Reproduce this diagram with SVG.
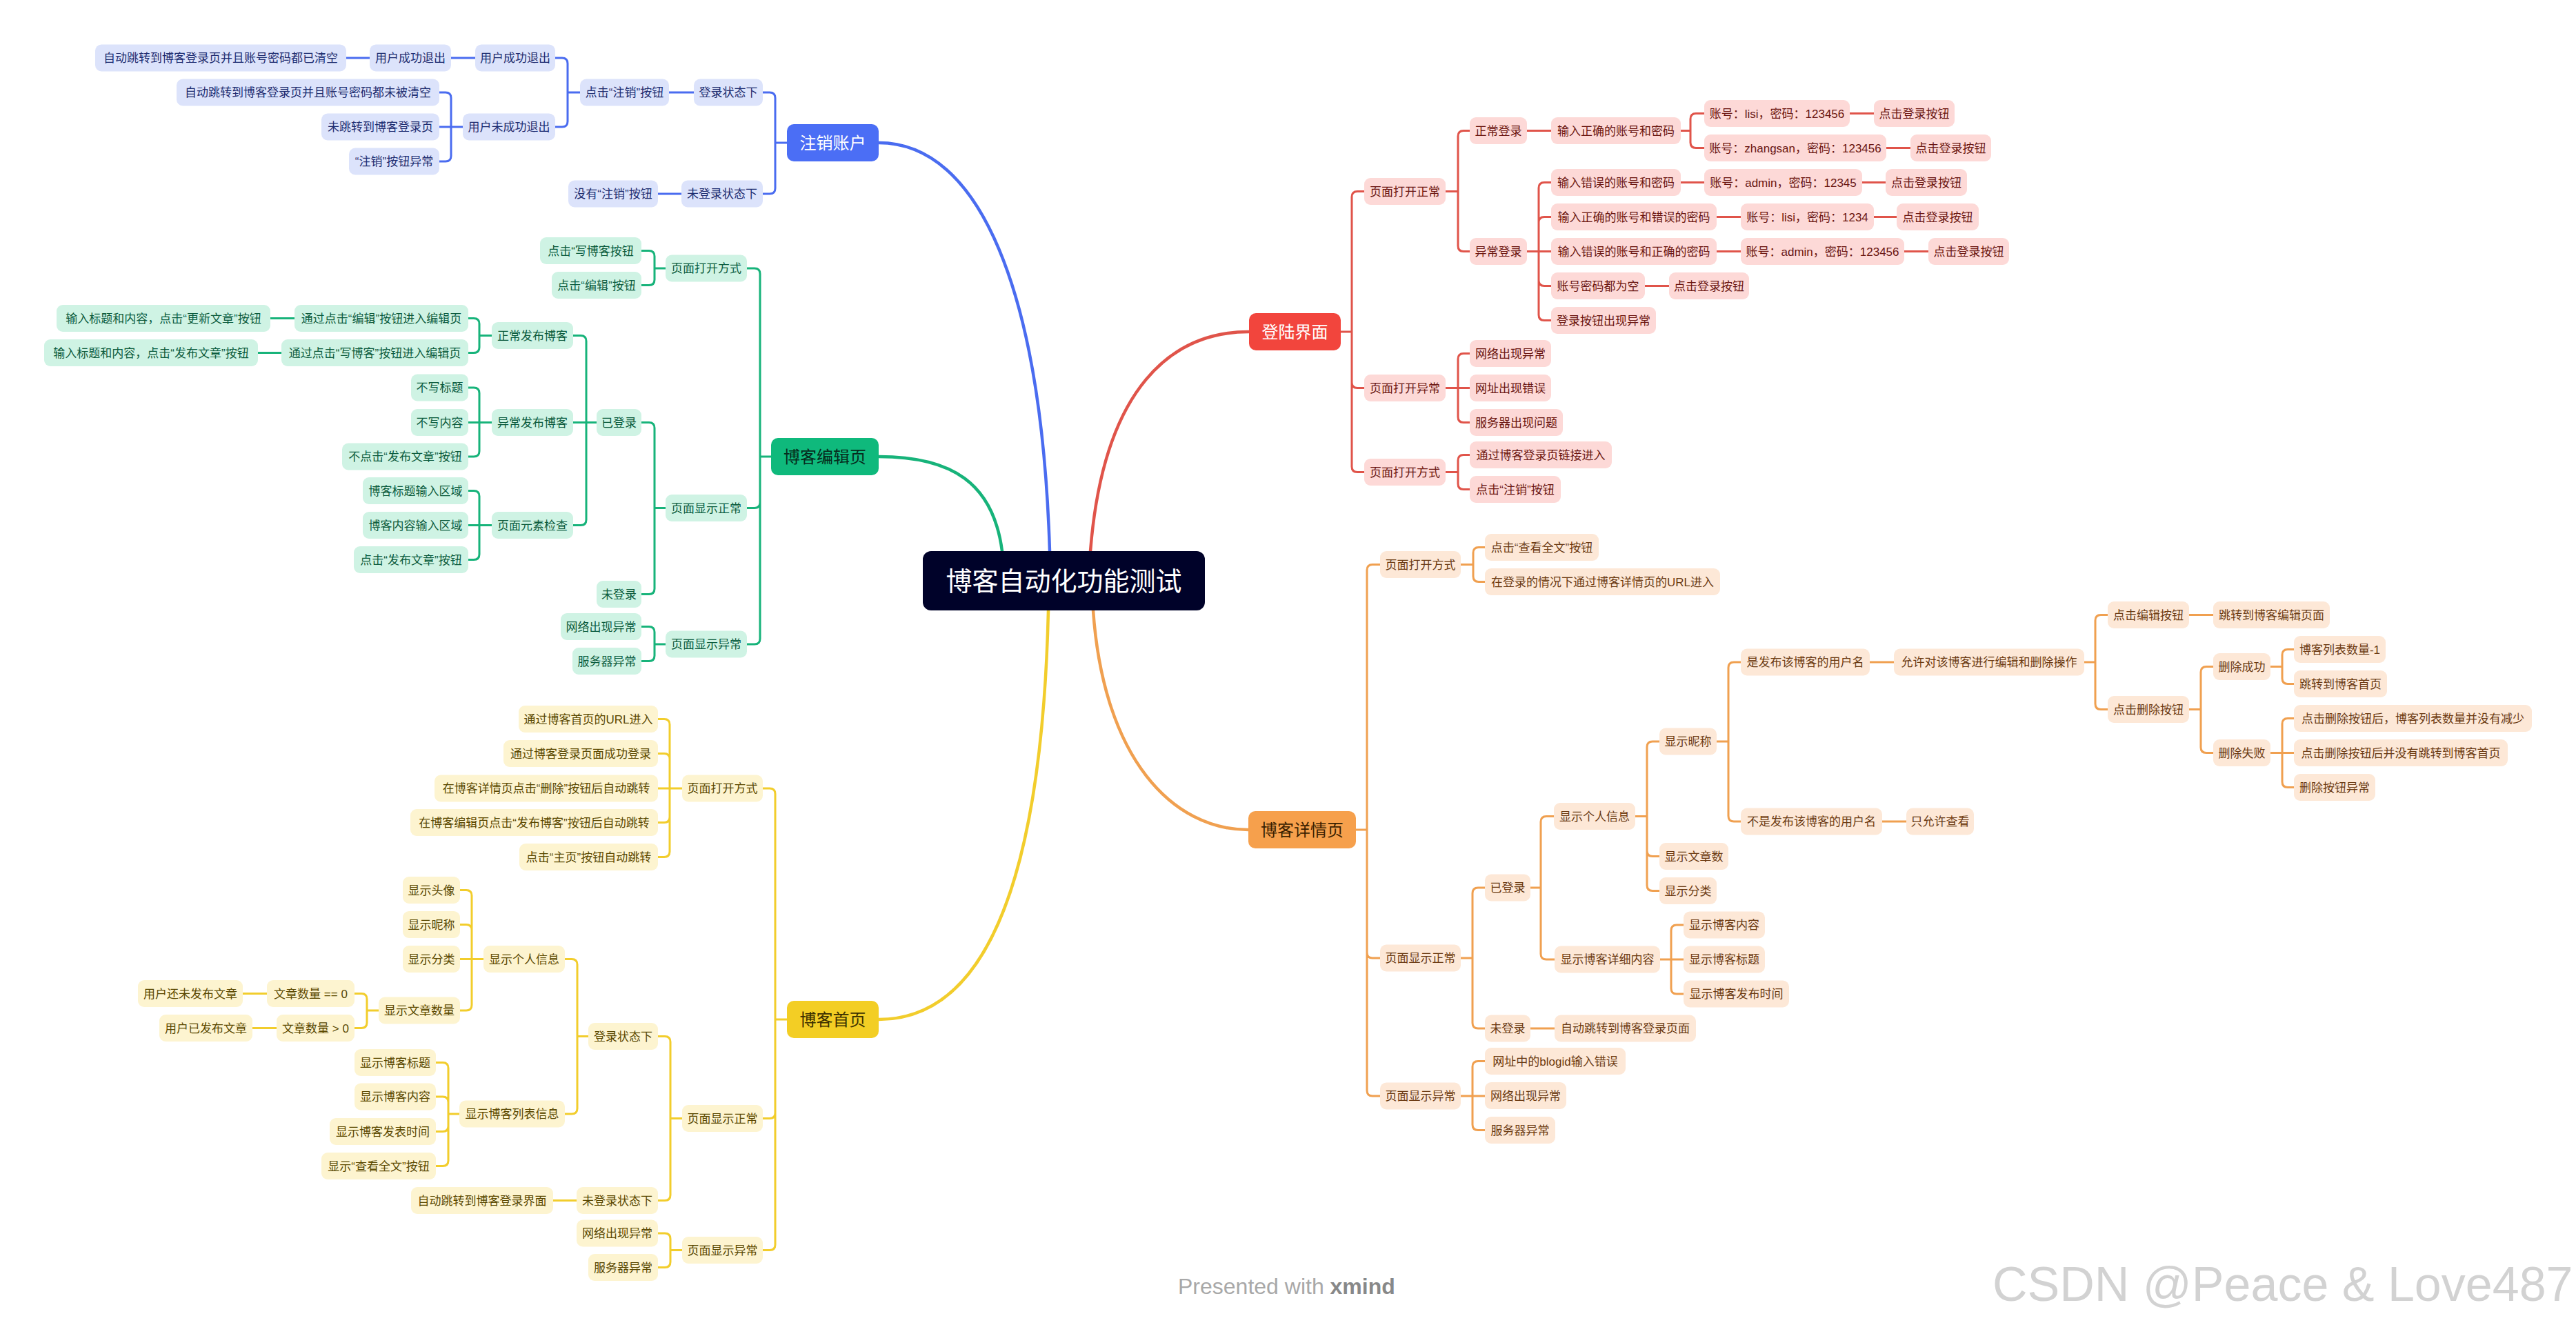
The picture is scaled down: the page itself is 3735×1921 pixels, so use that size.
<svg xmlns="http://www.w3.org/2000/svg" width="3735" height="1921" viewBox="0 0 3735 1921">
<style>
text{font-family:"Liberation Sans","Noto Sans CJK SC",sans-serif;font-size:17px;text-anchor:middle}
.nb rect{fill:#dce3fb}.nb text{fill:#1d2c70}
.ng rect{fill:#cff3e4}.ng text{fill:#0b5b3d}
.ny rect{fill:#fdf4d0}.ny text{fill:#5a4800}
.nr rect{fill:#fdd9d7}.nr text{fill:#6b1611}
.no rect{fill:#fde8d7}.no text{fill:#6b3a12}
.root text{font-size:24px}
#conn path{fill:none;stroke-width:3;stroke-linecap:round;stroke-linejoin:round}
#conn .main{stroke-width:4.5}
.cb{stroke:#4a6cf0}.cg{stroke:#17b37a}.cy{stroke:#f2cd2c}.cr{stroke:#e0544a}.co{stroke:#f0a050}
.wm{font-family:"Liberation Sans",sans-serif;text-anchor:start}
</style>
<rect width="3735" height="1921" fill="#ffffff"/>
<g id="conn">
<path class="cb main" d="M1522,799 C1510,420 1420,207 1274,207"/>
<path class="cg main" d="M1453,799 C1440,700 1380,662 1274,662"/>
<path class="cr main" d="M1581,799 C1600,560 1700,481 1811,481"/>
<path class="cy main" d="M1520,885 C1510,1300 1420,1478 1274,1478"/>
<path class="co main" d="M1585,885 C1600,1100 1700,1203 1810,1203"/>
<path class="cb" d="M1141,207 H1124 M1124,207 V142 Q1124,134 1116,134 H1106 M1124,207 V273 Q1124,281 1116,281 H1106 M1006,134 H970 M988,281 H954 M841,134 H823 M823,134 V92 Q823,84 815,84 H805 M823,134 V176 Q823,184 815,184 H805 M689,84 H654 M536,84 H502 M671,184 H654 M654,184 V142 Q654,134 646,134 H637 M654,184 H637 M654,184 V226 Q654,234 646,234 H637"/>
<path class="cg" d="M1118,662 H1102 M1102,662 V397 Q1102,389 1094,389 H1083 M1102,662 V728.5 Q1102,736.5 1094,736.5 H1083 M1102,662 V926 Q1102,934 1094,934 H1083 M965,389 H949 M949,389 V371.5 Q949,363.5 941,363.5 H930 M949,389 V405.5 Q949,413.5 941,413.5 H930 M965,736.5 H949 M949,736.5 V620.5 Q949,612.5 941,612.5 H930 M949,736.5 V853.5 Q949,861.5 941,861.5 H930 M965,934 H949 M949,934 V916.5 Q949,908.5 941,908.5 H930 M949,934 V950.5 Q949,958.5 941,958.5 H930 M865,612.5 H850 M850,612.5 V494.5 Q850,486.5 842,486.5 H831 M850,612.5 H831 M850,612.5 V753.5 Q850,761.5 842,761.5 H831 M713,486.5 H695 M695,486.5 V469.5 Q695,461.5 687,461.5 H679 M695,486.5 V503.5 Q695,511.5 687,511.5 H679 M427,461.5 H392 M408,511.5 H374 M713,612.5 H695 M695,612.5 V570 Q695,562 687,562 H679 M695,612.5 H679 M695,612.5 V654 Q695,662 687,662 H679 M713,761.5 H695 M695,761.5 V719.5 Q695,711.5 687,711.5 H679 M695,761.5 H679 M695,761.5 V803.5 Q695,811.5 687,811.5 H679"/>
<path class="cy" d="M1141,1478 H1124 M1124,1478 V1151 Q1124,1143 1116,1143 H1106 M1124,1478 V1613.5 Q1124,1621.5 1116,1621.5 H1106 M1124,1478 V1804.5 Q1124,1812.5 1116,1812.5 H1106 M989,1143 H971 M971,1143 V1050.5 Q971,1042.5 963,1042.5 H954 M971,1143 V1100.5 Q971,1092.5 963,1092.5 H954 M971,1143 H954 M971,1143 V1184.5 Q971,1192.5 963,1192.5 H954 M971,1143 V1234.5 Q971,1242.5 963,1242.5 H954 M989,1621.5 H972 M972,1621.5 V1510.5 Q972,1502.5 964,1502.5 H954 M972,1621.5 V1732.5 Q972,1740.5 964,1740.5 H954 M989,1812.5 H972 M972,1812.5 V1796 Q972,1788 964,1788 H954 M972,1812.5 V1829.5 Q972,1837.5 964,1837.5 H954 M853,1502.5 H837 M837,1502.5 V1398.5 Q837,1390.5 829,1390.5 H819 M837,1502.5 V1607 Q837,1615 829,1615 H819 M836,1740.5 H802 M701,1390.5 H684 M684,1390.5 V1298.5 Q684,1290.5 676,1290.5 H667 M684,1390.5 V1348.5 Q684,1340.5 676,1340.5 H667 M684,1390.5 H667 M684,1390.5 V1457 Q684,1465 676,1465 H667 M549,1465 H532 M532,1465 V1448.5 Q532,1440.5 524,1440.5 H514 M532,1465 V1482.5 Q532,1490.5 524,1490.5 H514 M387,1440.5 H352 M401,1490.5 H366 M666,1615 H650 M650,1615 V1548.5 Q650,1540.5 642,1540.5 H632 M650,1615 V1598 Q650,1590 642,1590 H632 M650,1615 V1632.5 Q650,1640.5 642,1640.5 H632 M650,1615 V1682.5 Q650,1690.5 642,1690.5 H632"/>
<path class="cr" d="M1944,481 H1960 M1960,481 V285.5 Q1960,277.5 1968,277.5 H1978 M1960,481 V554.5 Q1960,562.5 1968,562.5 H1978 M1960,481 V676.5 Q1960,684.5 1968,684.5 H1978 M2096,277.5 H2114 M2114,277.5 V197.5 Q2114,189.5 2122,189.5 H2131 M2114,277.5 V356.5 Q2114,364.5 2122,364.5 H2131 M2096,562.5 H2114 M2114,562.5 V520.5 Q2114,512.5 2122,512.5 H2131 M2114,562.5 H2131 M2114,562.5 V604.5 Q2114,612.5 2122,612.5 H2131 M2096,684.5 H2114 M2114,684.5 V667.5 Q2114,659.5 2122,659.5 H2131 M2114,684.5 V701.5 Q2114,709.5 2122,709.5 H2131 M2214,189.5 H2249 M2437,189.5 H2451 M2451,189.5 V172.5 Q2451,164.5 2459,164.5 H2471 M2451,189.5 V206.5 Q2451,214.5 2459,214.5 H2471 M2682,164.5 H2717 M2735,214.5 H2770 M2214,364.5 H2231 M2231,364.5 V272.5 Q2231,264.5 2239,264.5 H2249 M2231,364.5 V322.5 Q2231,314.5 2239,314.5 H2249 M2231,364.5 H2249 M2231,364.5 V406.5 Q2231,414.5 2239,414.5 H2249 M2231,364.5 V456.5 Q2231,464.5 2239,464.5 H2249 M2437,264.5 H2471 M2700,264.5 H2734 M2489,314.5 H2524 M2717,314.5 H2750 M2489,364.5 H2524 M2761,364.5 H2796 M2385,414.5 H2420"/>
<path class="co" d="M1966,1203 H1982 M1982,1203 V826.5 Q1982,818.5 1990,818.5 H2001 M1982,1203 V1381 Q1982,1389 1990,1389 H2001 M1982,1203 V1581 Q1982,1589 1990,1589 H2001 M2118,818.5 H2136 M2136,818.5 V801.5 Q2136,793.5 2144,793.5 H2153 M2136,818.5 V835.5 Q2136,843.5 2144,843.5 H2153 M2118,1389 H2135 M2135,1389 V1295 Q2135,1287 2143,1287 H2153 M2135,1389 V1483 Q2135,1491 2143,1491 H2153 M2118,1589 H2135 M2135,1589 V1546.5 Q2135,1538.5 2143,1538.5 H2153 M2135,1589 H2153 M2135,1589 V1630.5 Q2135,1638.5 2143,1638.5 H2153 M2219,1287 H2234 M2234,1287 V1191.5 Q2234,1183.5 2242,1183.5 H2253 M2234,1287 V1383 Q2234,1391 2242,1391 H2254 M2219,1491 H2254 M2371,1183.5 H2388 M2388,1183.5 V1083 Q2388,1075 2396,1075 H2406 M2388,1183.5 V1233.5 Q2388,1241.5 2396,1241.5 H2406 M2388,1183.5 V1283.5 Q2388,1291.5 2396,1291.5 H2406 M2407,1391 H2423 M2423,1391 V1349 Q2423,1341 2431,1341 H2441 M2423,1391 H2441 M2423,1391 V1433 Q2423,1441 2431,1441 H2441 M2489,1075 H2506 M2506,1075 V968 Q2506,960 2514,960 H2524 M2506,1075 V1183 Q2506,1191 2514,1191 H2524 M2711,960 H2746 M2729,1191 H2764 M3022,960 H3038 M3038,960 V899.5 Q3038,891.5 3046,891.5 H3056 M3038,960 V1020.5 Q3038,1028.5 3046,1028.5 H3056 M3174,891.5 H3209 M3174,1028.5 H3191 M3191,1028.5 V974.5 Q3191,966.5 3199,966.5 H3209 M3191,1028.5 V1083.5 Q3191,1091.5 3199,1091.5 H3209 M3292,966.5 H3309 M3309,966.5 V949.5 Q3309,941.5 3317,941.5 H3326 M3309,966.5 V983.5 Q3309,991.5 3317,991.5 H3326 M3292,1091.5 H3309 M3309,1091.5 V1049.5 Q3309,1041.5 3317,1041.5 H3326 M3309,1091.5 H3326 M3309,1091.5 V1133.5 Q3309,1141.5 3317,1141.5 H3326"/>
</g>
<g id="center"><rect x="1338" y="799" width="409" height="86" rx="12" fill="#000229"/><text x="1542.5" y="856" style="font-size:38px" fill="#ffffff">博客自动化功能测试</text></g>
<!-- blue -->
<g id="b-root" class="root"><rect x="1141" y="180" width="133" height="54" rx="10" fill="#4b6ef5"/><text x="1207.5" y="216" fill="#ffffff">注销账户</text></g>
<g id="b1" class="nb"><rect x="1006" y="114.5" width="100" height="39" rx="9"/><text x="1056" y="140">登录状态下</text></g>
<g id="b2" class="nb"><rect x="988" y="261.5" width="118" height="39" rx="9"/><text x="1047" y="287">未登录状态下</text></g>
<g id="b11" class="nb"><rect x="841" y="114.5" width="129" height="39" rx="9"/><text x="905.5" y="140">点击“注销”按钮</text></g>
<g id="b21" class="nb"><rect x="824" y="261.5" width="130" height="39" rx="9"/><text x="889" y="287">没有“注销”按钮</text></g>
<g id="b111" class="nb"><rect x="689" y="64.5" width="116" height="39" rx="9"/><text x="747" y="90">用户成功退出</text></g>
<g id="b112" class="nb"><rect x="671" y="164.5" width="134" height="39" rx="9"/><text x="738" y="190">用户未成功退出</text></g>
<g id="b1111" class="nb"><rect x="536" y="64.5" width="118" height="39" rx="9"/><text x="595" y="90">用户成功退出</text></g>
<g id="b11111" class="nb"><rect x="138" y="64.5" width="364" height="39" rx="9"/><text x="320" y="90">自动跳转到博客登录页并且账号密码都已清空</text></g>
<g id="b1121" class="nb"><rect x="256" y="114.5" width="381" height="39" rx="9"/><text x="446.5" y="140">自动跳转到博客登录页并且账号密码都未被清空</text></g>
<g id="b1122" class="nb"><rect x="466" y="164.5" width="171" height="39" rx="9"/><text x="551.5" y="190">未跳转到博客登录页</text></g>
<g id="b1123" class="nb"><rect x="506" y="214.5" width="131" height="39" rx="9"/><text x="571.5" y="240">“注销”按钮异常</text></g>
<!-- green -->
<g id="g-root" class="root"><rect x="1118" y="635" width="156" height="54" rx="10" fill="#0fb97c"/><text x="1196" y="671" fill="#062b1c">博客编辑页</text></g>
<g id="g1" class="ng"><rect x="965" y="369.5" width="118" height="39" rx="9"/><text x="1024" y="395">页面打开方式</text></g>
<g id="g2" class="ng"><rect x="965" y="717" width="118" height="39" rx="9"/><text x="1024" y="742.5">页面显示正常</text></g>
<g id="g3" class="ng"><rect x="965" y="914.5" width="118" height="39" rx="9"/><text x="1024" y="940">页面显示异常</text></g>
<g id="g11" class="ng"><rect x="783" y="344" width="147" height="39" rx="9"/><text x="856.5" y="369.5">点击“写博客按钮</text></g>
<g id="g12" class="ng"><rect x="800" y="394" width="130" height="39" rx="9"/><text x="865" y="419.5">点击“编辑”按钮</text></g>
<g id="g21" class="ng"><rect x="865" y="593" width="65" height="39" rx="9"/><text x="897.5" y="618.5">已登录</text></g>
<g id="g22" class="ng"><rect x="865" y="842" width="65" height="39" rx="9"/><text x="897.5" y="867.5">未登录</text></g>
<g id="g31" class="ng"><rect x="813" y="889" width="117" height="39" rx="9"/><text x="871.5" y="914.5">网络出现异常</text></g>
<g id="g32" class="ng"><rect x="830" y="939" width="100" height="39" rx="9"/><text x="880" y="964.5">服务器异常</text></g>
<g id="g211" class="ng"><rect x="713" y="467" width="118" height="39" rx="9"/><text x="772" y="492.5">正常发布博客</text></g>
<g id="g212" class="ng"><rect x="713" y="593" width="118" height="39" rx="9"/><text x="772" y="618.5">异常发布博客</text></g>
<g id="g213" class="ng"><rect x="713" y="742" width="118" height="39" rx="9"/><text x="772" y="767.5">页面元素检查</text></g>
<g id="g2111" class="ng"><rect x="427" y="442" width="252" height="39" rx="9"/><text x="553" y="467.5">通过点击“编辑”按钮进入编辑页</text></g>
<g id="g2112" class="ng"><rect x="408" y="492" width="271" height="39" rx="9"/><text x="543.5" y="517.5">通过点击“写博客”按钮进入编辑页</text></g>
<g id="g21111" class="ng"><rect x="82" y="442" width="310" height="39" rx="9"/><text x="237" y="467.5">输入标题和内容，点击“更新文章”按钮</text></g>
<g id="g21121" class="ng"><rect x="64" y="492" width="310" height="39" rx="9"/><text x="219" y="517.5">输入标题和内容，点击“发布文章”按钮</text></g>
<g id="g2121" class="ng"><rect x="596" y="542.5" width="83" height="39" rx="9"/><text x="637.5" y="568">不写标题</text></g>
<g id="g2122" class="ng"><rect x="596" y="593" width="83" height="39" rx="9"/><text x="637.5" y="618.5">不写内容</text></g>
<g id="g2123" class="ng"><rect x="496" y="642.5" width="183" height="39" rx="9"/><text x="587.5" y="668">不点击“发布文章”按钮</text></g>
<g id="g2131" class="ng"><rect x="526" y="692" width="153" height="39" rx="9"/><text x="602.5" y="717.5">博客标题输入区域</text></g>
<g id="g2132" class="ng"><rect x="526" y="742" width="153" height="39" rx="9"/><text x="602.5" y="767.5">博客内容输入区域</text></g>
<g id="g2133" class="ng"><rect x="513" y="792" width="166" height="39" rx="9"/><text x="596" y="817.5">点击“发布文章”按钮</text></g>
<!-- yellow -->
<g id="y-root" class="root"><rect x="1141" y="1451" width="133" height="54" rx="10" fill="#f3ce24"/><text x="1207.5" y="1487" fill="#3b3000">博客首页</text></g>
<g id="y1" class="ny"><rect x="989" y="1123.5" width="117" height="39" rx="9"/><text x="1047.5" y="1149">页面打开方式</text></g>
<g id="y2" class="ny"><rect x="989" y="1602" width="117" height="39" rx="9"/><text x="1047.5" y="1627.5">页面显示正常</text></g>
<g id="y3" class="ny"><rect x="989" y="1793" width="117" height="39" rx="9"/><text x="1047.5" y="1818.5">页面显示异常</text></g>
<g id="y11" class="ny"><rect x="752" y="1023" width="202" height="39" rx="9"/><text x="853" y="1048.5">通过博客首页的URL进入</text></g>
<g id="y12" class="ny"><rect x="730" y="1073" width="224" height="39" rx="9"/><text x="842" y="1098.5">通过博客登录页面成功登录</text></g>
<g id="y13" class="ny"><rect x="630" y="1123.5" width="324" height="39" rx="9"/><text x="792" y="1149">在博客详情页点击“删除”按钮后自动跳转</text></g>
<g id="y14" class="ny"><rect x="595" y="1173" width="359" height="39" rx="9"/><text x="774.5" y="1198.5">在博客编辑页点击“发布博客”按钮后自动跳转</text></g>
<g id="y15" class="ny"><rect x="753" y="1223" width="201" height="39" rx="9"/><text x="853.5" y="1248.5">点击“主页”按钮自动跳转</text></g>
<g id="y21" class="ny"><rect x="853" y="1483" width="101" height="39" rx="9"/><text x="903.5" y="1508.5">登录状态下</text></g>
<g id="y22" class="ny"><rect x="836" y="1721" width="118" height="39" rx="9"/><text x="895" y="1746.5">未登录状态下</text></g>
<g id="y31" class="ny"><rect x="836" y="1768.5" width="118" height="39" rx="9"/><text x="895" y="1794">网络出现异常</text></g>
<g id="y32" class="ny"><rect x="853" y="1818" width="101" height="39" rx="9"/><text x="903.5" y="1843.5">服务器异常</text></g>
<g id="y211" class="ny"><rect x="701" y="1371" width="118" height="39" rx="9"/><text x="760" y="1396.5">显示个人信息</text></g>
<g id="y212" class="ny"><rect x="666" y="1595.5" width="153" height="39" rx="9"/><text x="742.5" y="1621">显示博客列表信息</text></g>
<g id="y221" class="ny"><rect x="596" y="1721" width="206" height="39" rx="9"/><text x="699" y="1746.5">自动跳转到博客登录界面</text></g>
<g id="y2111" class="ny"><rect x="584" y="1271" width="83" height="39" rx="9"/><text x="625.5" y="1296.5">显示头像</text></g>
<g id="y2112" class="ny"><rect x="584" y="1321" width="83" height="39" rx="9"/><text x="625.5" y="1346.5">显示昵称</text></g>
<g id="y2113" class="ny"><rect x="584" y="1371" width="83" height="39" rx="9"/><text x="625.5" y="1396.5">显示分类</text></g>
<g id="y2114" class="ny"><rect x="549" y="1445.5" width="118" height="39" rx="9"/><text x="608" y="1471">显示文章数量</text></g>
<g id="y21141" class="ny"><rect x="387" y="1421" width="127" height="39" rx="9"/><text x="450.5" y="1446.5">文章数量 == 0</text></g>
<g id="y21142" class="ny"><rect x="401" y="1471" width="113" height="39" rx="9"/><text x="457.5" y="1496.5">文章数量 &gt; 0</text></g>
<g id="y211411" class="ny"><rect x="200" y="1421" width="152" height="39" rx="9"/><text x="276" y="1446.5">用户还未发布文章</text></g>
<g id="y211421" class="ny"><rect x="231" y="1471" width="135" height="39" rx="9"/><text x="298.5" y="1496.5">用户已发布文章</text></g>
<g id="y2121" class="ny"><rect x="514" y="1521" width="118" height="39" rx="9"/><text x="573" y="1546.5">显示博客标题</text></g>
<g id="y2122" class="ny"><rect x="514" y="1570.5" width="118" height="39" rx="9"/><text x="573" y="1596">显示博客内容</text></g>
<g id="y2123" class="ny"><rect x="478" y="1621" width="154" height="39" rx="9"/><text x="555" y="1646.5">显示博客发表时间</text></g>
<g id="y2124" class="ny"><rect x="466" y="1671" width="166" height="39" rx="9"/><text x="549" y="1696.5">显示“查看全文”按钮</text></g>
<!-- red -->
<g id="r-root" class="root"><rect x="1811" y="454" width="133" height="54" rx="10" fill="#f2453d"/><text x="1877.5" y="490" fill="#ffffff">登陆界面</text></g>
<g id="r1" class="nr"><rect x="1978" y="258" width="118" height="39" rx="9"/><text x="2037" y="283.5">页面打开正常</text></g>
<g id="r2" class="nr"><rect x="1978" y="543" width="118" height="39" rx="9"/><text x="2037" y="568.5">页面打开异常</text></g>
<g id="r3" class="nr"><rect x="1978" y="665" width="118" height="39" rx="9"/><text x="2037" y="690.5">页面打开方式</text></g>
<g id="r11" class="nr"><rect x="2131" y="170" width="83" height="39" rx="9"/><text x="2172.5" y="195.5">正常登录</text></g>
<g id="r12" class="nr"><rect x="2131" y="345" width="83" height="39" rx="9"/><text x="2172.5" y="370.5">异常登录</text></g>
<g id="r21" class="nr"><rect x="2131" y="493" width="118" height="39" rx="9"/><text x="2190" y="518.5">网络出现异常</text></g>
<g id="r22" class="nr"><rect x="2131" y="543" width="118" height="39" rx="9"/><text x="2190" y="568.5">网址出现错误</text></g>
<g id="r23" class="nr"><rect x="2131" y="593" width="135" height="39" rx="9"/><text x="2198.5" y="618.5">服务器出现问题</text></g>
<g id="r31" class="nr"><rect x="2131" y="640" width="206" height="39" rx="9"/><text x="2234" y="665.5">通过博客登录页链接进入</text></g>
<g id="r32" class="nr"><rect x="2131" y="690" width="132" height="39" rx="9"/><text x="2197" y="715.5">点击“注销”按钮</text></g>
<g id="r111" class="nr"><rect x="2249" y="170" width="188" height="39" rx="9"/><text x="2343" y="195.5">输入正确的账号和密码</text></g>
<g id="r1111" class="nr"><rect x="2471" y="145" width="211" height="39" rx="9"/><text x="2576.5" y="170.5">账号：lisi，密码：123456</text></g>
<g id="r1112" class="nr"><rect x="2471" y="195" width="264" height="39" rx="9"/><text x="2603" y="220.5">账号：zhangsan，密码：123456</text></g>
<g id="r11111" class="nr"><rect x="2717" y="145" width="117" height="39" rx="9"/><text x="2775.5" y="170.5">点击登录按钮</text></g>
<g id="r11121" class="nr"><rect x="2770" y="195" width="117" height="39" rx="9"/><text x="2828.5" y="220.5">点击登录按钮</text></g>
<g id="r121" class="nr"><rect x="2249" y="245" width="188" height="39" rx="9"/><text x="2343" y="270.5">输入错误的账号和密码</text></g>
<g id="r122" class="nr"><rect x="2249" y="295" width="240" height="39" rx="9"/><text x="2369" y="320.5">输入正确的账号和错误的密码</text></g>
<g id="r123" class="nr"><rect x="2249" y="345" width="240" height="39" rx="9"/><text x="2369" y="370.5">输入错误的账号和正确的密码</text></g>
<g id="r124" class="nr"><rect x="2249" y="395" width="136" height="39" rx="9"/><text x="2317" y="420.5">账号密码都为空</text></g>
<g id="r125" class="nr"><rect x="2249" y="445" width="152" height="39" rx="9"/><text x="2325" y="470.5">登录按钮出现异常</text></g>
<g id="r1211" class="nr"><rect x="2471" y="245" width="229" height="39" rx="9"/><text x="2585.5" y="270.5">账号：admin，密码：12345</text></g>
<g id="r12111" class="nr"><rect x="2734" y="245" width="118" height="39" rx="9"/><text x="2793" y="270.5">点击登录按钮</text></g>
<g id="r1221" class="nr"><rect x="2524" y="295" width="193" height="39" rx="9"/><text x="2620.5" y="320.5">账号：lisi，密码：1234</text></g>
<g id="r12211" class="nr"><rect x="2750" y="295" width="119" height="39" rx="9"/><text x="2809.5" y="320.5">点击登录按钮</text></g>
<g id="r1231" class="nr"><rect x="2524" y="345" width="237" height="39" rx="9"/><text x="2642.5" y="370.5">账号：admin，密码：123456</text></g>
<g id="r12311" class="nr"><rect x="2796" y="345" width="117" height="39" rx="9"/><text x="2854.5" y="370.5">点击登录按钮</text></g>
<g id="r1241" class="nr"><rect x="2420" y="395" width="116" height="39" rx="9"/><text x="2478" y="420.5">点击登录按钮</text></g>
<!-- orange -->
<g id="o-root" class="root"><rect x="1810" y="1176" width="156" height="54" rx="10" fill="#f6a04c"/><text x="1888" y="1212" fill="#3a1f00">博客详情页</text></g>
<g id="o1" class="no"><rect x="2001" y="799" width="117" height="39" rx="9"/><text x="2059.5" y="824.5">页面打开方式</text></g>
<g id="o2" class="no"><rect x="2001" y="1369.5" width="117" height="39" rx="9"/><text x="2059.5" y="1395">页面显示正常</text></g>
<g id="o3" class="no"><rect x="2001" y="1569.5" width="117" height="39" rx="9"/><text x="2059.5" y="1595">页面显示异常</text></g>
<g id="o11" class="no"><rect x="2153" y="774" width="165" height="39" rx="9"/><text x="2235.5" y="799.5">点击“查看全文”按钮</text></g>
<g id="o12" class="no"><rect x="2153" y="824" width="341" height="39" rx="9"/><text x="2323.5" y="849.5">在登录的情况下通过博客详情页的URL进入</text></g>
<g id="o21" class="no"><rect x="2153" y="1267.5" width="66" height="39" rx="9"/><text x="2186" y="1293">已登录</text></g>
<g id="o22" class="no"><rect x="2153" y="1471.5" width="66" height="39" rx="9"/><text x="2186" y="1497">未登录</text></g>
<g id="o31" class="no"><rect x="2153" y="1519" width="204" height="39" rx="9"/><text x="2255" y="1544.5">网址中的blogid输入错误</text></g>
<g id="o32" class="no"><rect x="2153" y="1569" width="118" height="39" rx="9"/><text x="2212" y="1594.5">网络出现异常</text></g>
<g id="o33" class="no"><rect x="2153" y="1619" width="102" height="39" rx="9"/><text x="2204" y="1644.5">服务器异常</text></g>
<g id="o211" class="no"><rect x="2253" y="1164" width="118" height="39" rx="9"/><text x="2312" y="1189.5">显示个人信息</text></g>
<g id="o212" class="no"><rect x="2254" y="1371.5" width="153" height="39" rx="9"/><text x="2330.5" y="1397">显示博客详细内容</text></g>
<g id="o221" class="no"><rect x="2254" y="1471.5" width="205" height="39" rx="9"/><text x="2356.5" y="1497">自动跳转到博客登录页面</text></g>
<g id="o2111" class="no"><rect x="2406" y="1055.5" width="83" height="39" rx="9"/><text x="2447.5" y="1081">显示昵称</text></g>
<g id="o2112" class="no"><rect x="2406" y="1222" width="100" height="39" rx="9"/><text x="2456" y="1247.5">显示文章数</text></g>
<g id="o2113" class="no"><rect x="2406" y="1272" width="83" height="39" rx="9"/><text x="2447.5" y="1297.5">显示分类</text></g>
<g id="o2121" class="no"><rect x="2441" y="1321.5" width="118" height="39" rx="9"/><text x="2500" y="1347">显示博客内容</text></g>
<g id="o2122" class="no"><rect x="2441" y="1371.5" width="118" height="39" rx="9"/><text x="2500" y="1397">显示博客标题</text></g>
<g id="o2123" class="no"><rect x="2441" y="1421.5" width="153" height="39" rx="9"/><text x="2517.5" y="1447">显示博客发布时间</text></g>
<g id="o21111" class="no"><rect x="2524" y="940.5" width="187" height="39" rx="9"/><text x="2617.5" y="966">是发布该博客的用户名</text></g>
<g id="o21112" class="no"><rect x="2524" y="1171.5" width="205" height="39" rx="9"/><text x="2626.5" y="1197">不是发布该博客的用户名</text></g>
<g id="o211111" class="no"><rect x="2746" y="940.5" width="276" height="39" rx="9"/><text x="2884" y="966">允许对该博客进行编辑和删除操作</text></g>
<g id="o211121" class="no"><rect x="2764" y="1171.5" width="98" height="39" rx="9"/><text x="2813" y="1197">只允许查看</text></g>
<g id="o-edit" class="no"><rect x="3056" y="872" width="118" height="39" rx="9"/><text x="3115" y="897.5">点击编辑按钮</text></g>
<g id="o-del" class="no"><rect x="3056" y="1009" width="118" height="39" rx="9"/><text x="3115" y="1034.5">点击删除按钮</text></g>
<g id="o-edit1" class="no"><rect x="3209" y="872" width="169" height="39" rx="9"/><text x="3293.5" y="897.5">跳转到博客编辑页面</text></g>
<g id="o-ds" class="no"><rect x="3209" y="947" width="83" height="39" rx="9"/><text x="3250.5" y="972.5">删除成功</text></g>
<g id="o-df" class="no"><rect x="3209" y="1072" width="83" height="39" rx="9"/><text x="3250.5" y="1097.5">删除失败</text></g>
<g id="o-ds1" class="no"><rect x="3326" y="922" width="133" height="39" rx="9"/><text x="3392.5" y="947.5">博客列表数量-1</text></g>
<g id="o-ds2" class="no"><rect x="3326" y="972" width="135" height="39" rx="9"/><text x="3393.5" y="997.5">跳转到博客首页</text></g>
<g id="o-df1" class="no"><rect x="3326" y="1022" width="345" height="39" rx="9"/><text x="3498.5" y="1047.5">点击删除按钮后，博客列表数量并没有减少</text></g>
<g id="o-df2" class="no"><rect x="3326" y="1072" width="310" height="39" rx="9"/><text x="3481" y="1097.5">点击删除按钮后并没有跳转到博客首页</text></g>
<g id="o-df3" class="no"><rect x="3326" y="1122" width="118" height="39" rx="9"/><text x="3385" y="1147.5">删除按钮异常</text></g>
<text class="wm" x="1708" y="1876" style="font-size:32px" fill="#a8a8a8">Presented with <tspan font-weight="bold" fill="#888888">xmind</tspan></text>
<text class="wm" x="2889" y="1886" style="font-size:70px" fill="#d2d2d2">CSDN @Peace &amp; Love487</text>
</svg>
